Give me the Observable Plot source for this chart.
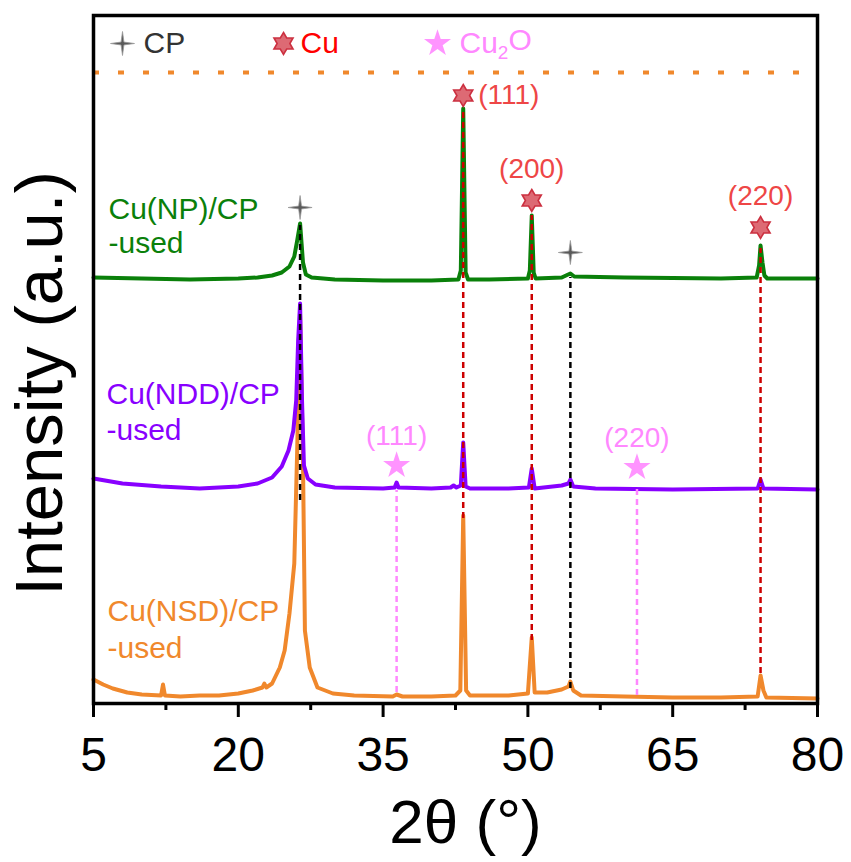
<!DOCTYPE html>
<html><head><meta charset="utf-8">
<script src="https://cdn.jsdelivr.net/npm/d3@7"></script>
<script src="https://cdn.jsdelivr.net/npm/@observablehq/plot@0.6"></script>
<style>body{margin:0;background:#fff;} #chart{width:851px;height:862px;}</style>
</head><body><div id="chart"></div>
<script>
// ---- data (2θ in degrees, intensity in arbitrary stacked units) ----
const npTheta = [5,10,15,20,22,23.5,24.5,25.3,25.8,26.1,26.4,26.7,27.0,27.6,30,35,40,42.8,43.05,43.3,43.55,43.8,46,50.0,50.2,50.4,50.6,50.8,53.5,54.4,54.8,60,70,73.7,73.95,74.1,74.3,74.5,74.8,80];
const npInt   = [426,425,424,425,426,428,431,437,447,463,480,441,429,426,424,423,423,424,433,595,431,424,424,425,433,488,431,425,426,430,427,426,425,426,438,458,441,428,425,425];

const nddTheta = [5,8,12,16,20,22,23.5,24.5,25.2,25.7,26.0,26.2,26.4,26.6,26.8,27.2,28,30,35,36.2,36.4,36.6,40,42.0,42.3,42.6,43.05,43.3,43.55,44,48,50.1,50.4,50.7,53.5,54.2,54.4,54.7,57,65,73.8,74.1,74.4,80];
const nddInt   = [225,220,217,215,217,220,226,237,253,273,303,363,400,303,238,225,219,216,215,216,221,216,215,216,218,216,218,261,217,215,215,216,235,215,218,220,224,217,215,214,215,224,215,214];

const nsdTheta = [5,6,7,8.5,10,12.0,12.2,12.4,14,16,18,20,21.5,22.5,22.7,22.9,23.5,24.3,24.8,25.3,25.8,26.1,26.4,26.7,26.9,27.4,28.2,29.8,32,36,36.4,37,40,42.5,43.0,43.3,43.6,44,48,50.0,50.4,50.7,52,53.5,54.2,54.4,54.7,55.5,60,65,70,73.8,74.1,74.4,74.7,80];
const nsdInt   = [24,19,15,11,9,8,19,8,7,8,8,10,13,16,20,16,20,36,53,90,140,253,388,243,73,36,16,10,8,7,9,7,7,8,13,188,13,8,8,10,66,11,11,14,17,22,13,8,7,6,6,7,28,13,6,5];

// reference (phase) positions and their dashed guide extents
const refTheta = [26.4, 54.4, 43.3, 50.4, 74.1, 36.4, 61.3];
const refPhase = ["CP", "CP", "Cu", "Cu", "Cu", "Cu2O", "Cu2O"];
const refLow   = [203, 15, 185, 63, 30, 11, 8];
const refHigh  = [478, 426, 595, 488, 455, 213, 216];

// marker positions and Miller indices
const markTheta = [26.4, 54.4, 43.3, 50.4, 74.1, 36.4, 61.3];
const markPhase = ["CP", "CP", "Cu", "Cu", "Cu", "Cu2O", "Cu2O"];
const markInt   = [496, 451, 608, 503, 476, 238, 236];
const markHkl   = ["", "", "(111)", "(200)", "(220)", "(111)", "(220)"];

const xTicks = [5, 20, 35, 50, 65, 80];
const xMinor = [12.5, 27.5, 42.5, 57.5, 72.5];
const guideLevel = [631];
const seriesNames = ["Cu(NP)/CP\n-used", "Cu(NDD)/CP\n-used", "Cu(NSD)/CP\n-used"];
const legendNames = ["CP", "Cu", "Cu2O"];

// ---- tables ----
const toRows = (t, v) => t.map((d, i) => ({theta: d, val: v[i]}));
const np = toRows(npTheta, npInt), ndd = toRows(nddTheta, nddInt), nsd = toRows(nsdTheta, nsdInt);
const refs = refTheta.map((t, i) => ({theta: t, phase: refPhase[i], lo: refLow[i], hi: refHigh[i]}));
const marks = markTheta.map((t, i) => ({theta: t, phase: markPhase[i], val: markInt[i], hkl: markHkl[i]}));

// ---- custom symbols ----
const hexagram = {draw(ctx, size) {
  const R = Math.sqrt(size / Math.PI), r = R / Math.sqrt(3);
  for (let i = 0; i < 12; i++) {
    const a = -Math.PI / 2 + i * Math.PI / 6, rr = i % 2 ? r : R;
    const x = rr * Math.cos(a), y = rr * Math.sin(a);
    i ? ctx.lineTo(x, y) : ctx.moveTo(x, y);
  }
  ctx.closePath();
}};
const sparkle = {draw(ctx, size) {
  const R = Math.sqrt(size / Math.PI), r = R * 0.17;
  for (let i = 0; i < 8; i++) {
    const a = -Math.PI / 2 + i * Math.PI / 4, rr = i % 2 ? r : R;
    const x = rr * Math.cos(a), y = rr * Math.sin(a);
    i ? ctx.lineTo(x, y) : ctx.moveTo(x, y);
  }
  ctx.closePath();
}};

const GREEN = "#0a800a", PURPLE = "#8800ff", ORANGE = "#f0882c";
const RED = "#ee4646", PINK = "#ff88ff", DARKRED = "#cc0000";
const refColor = {CP: "#000", Cu: DARKRED, Cu2O: PINK};
const FONT = "Liberation Sans, Arial, sans-serif";

const chart = Plot.plot({
  width: 851, height: 862,
  marginLeft: 93, marginRight: 34, marginTop: 15, marginBottom: 159,
  style: {fontFamily: FONT, background: "#fff", overflow: "visible"},
  x: {domain: [5, 80]},
  y: {domain: [0, 688], axis: null},
  marks: [
    Plot.ruleY(guideLevel, {stroke: ORANGE, strokeWidth: 4, strokeDasharray: "6,19"}),
    Plot.line(nsd, {x: "theta", y: "val", stroke: ORANGE, strokeWidth: 4}),
    Plot.line(ndd, {x: "theta", y: "val", stroke: PURPLE, strokeWidth: 4}),
    Plot.line(np, {x: "theta", y: "val", stroke: GREEN, strokeWidth: 4}),
    Plot.ruleX(refs, {x: "theta", y1: "lo", y2: "hi", stroke: d => refColor[d.phase], strokeWidth: 2.5, strokeDasharray: "6,4"}),
    // markers
    Plot.dot(marks.filter(d => d.phase === "CP"), {x: "theta", y: "val", symbol: sparkle, r: 12, fill: "#5a5a5a", stroke: "#999", strokeWidth: 0.8}),
    Plot.dot(marks.filter(d => d.phase === "Cu"), {x: "theta", y: "val", symbol: hexagram, r: 11, fill: "#dd6a74", stroke: "#cc3040", strokeWidth: 1.6}),
    Plot.dot(marks.filter(d => d.phase === "Cu2O"), {x: "theta", y: "val", symbol: "star", r: 8.5, fill: PINK, fillOpacity: 0.9}),
    // hkl labels
    Plot.text(marks.filter(d => d.phase === "Cu" && d.hkl === "(111)"), {x: "theta", y: "val", text: "hkl", fill: RED, fontSize: 28, textAnchor: "start", dx: 15}),
    Plot.text(marks.filter(d => d.phase === "Cu" && d.hkl !== "(111)"), {x: "theta", y: "val", text: "hkl", fill: RED, fontSize: 28, dy: -31}),
    Plot.text(marks.filter(d => d.phase === "Cu2O"), {x: "theta", y: "val", text: "hkl", fill: PINK, fontSize: 28, dy: -29}),
    // series labels
    Plot.text([seriesNames[0]], {frameAnchor: "top-left", textAnchor: "start", lineAnchor: "middle", dx: 15, dy: 210, fill: GREEN, fontSize: 30, lineHeight: 1.12}),
    Plot.text([seriesNames[1]], {frameAnchor: "top-left", textAnchor: "start", lineAnchor: "middle", dx: 13, dy: 395, fill: PURPLE, fontSize: 30, lineHeight: 1.2}),
    Plot.text([seriesNames[2]], {frameAnchor: "top-left", textAnchor: "start", lineAnchor: "middle", dx: 14, dy: 612, fill: ORANGE, fontSize: 30, lineHeight: 1.22}),
    // legend
    Plot.dot([legendNames[0]], {frameAnchor: "top-left", dx: 29, dy: 28, symbol: sparkle, r: 12, fill: "#5a5a5a", stroke: "#999", strokeWidth: 0.8}),
    Plot.text([legendNames[0]], {frameAnchor: "top-left", lineAnchor: "middle", dx: 50, dy: 28, textAnchor: "start", fill: "#333", fontSize: 30}),
    Plot.dot([legendNames[1]], {frameAnchor: "top-left", dx: 190, dy: 28, symbol: hexagram, r: 11, fill: "#dd6a74", stroke: "#cc3040", strokeWidth: 1.6}),
    Plot.text([legendNames[1]], {frameAnchor: "top-left", lineAnchor: "middle", dx: 207, dy: 28, textAnchor: "start", fill: "#ff0000", fontSize: 30}),
    Plot.dot([legendNames[2]], {frameAnchor: "top-left", dx: 344, dy: 28, symbol: "star", r: 8.5, fill: PINK, fillOpacity: 0.9}),
    Plot.text([legendNames[2]], {frameAnchor: "top-left", lineAnchor: "middle", dx: 366, dy: 28, textAnchor: "start", fill: PINK, fontSize: 30}),
    // axes
    Plot.axisX({ticks: xTicks, tickSize: 14, tickPadding: 19, fontSize: 48, strokeWidth: 3, label: null, color: "#000"}),
    Plot.axisX({ticks: xMinor, tickSize: 7, tickFormat: () => "", strokeWidth: 3, label: null}),
    Plot.text(["2θ (°)"], {frameAnchor: "bottom", textAnchor: "middle", lineAnchor: "middle", dx: 10, dy: 120, fontSize: 62, fill: "#000"}),
    Plot.text(["Intensity (a.u.)"], {frameAnchor: "left", textAnchor: "middle", lineAnchor: "middle", rotate: -90, dx: -53, dy: 24, fontSize: 67, fill: "#000"}),
    Plot.frame({stroke: "#000", strokeWidth: 3.5})
  ]
});
document.getElementById("chart").appendChild(chart);

// subscript for Cu2O labels
d3.select(chart).selectAll("text").filter(function() { return this.textContent === "Cu2O"; }).each(function() {
  const t = d3.select(this);
  t.text(null);
  t.append("tspan").text("Cu");
  t.append("tspan").attr("font-size", 19).attr("dy", "0.3em").text("2");
  t.append("tspan").attr("dy", "-0.3em").text("O");
});
</script>
</body></html>
